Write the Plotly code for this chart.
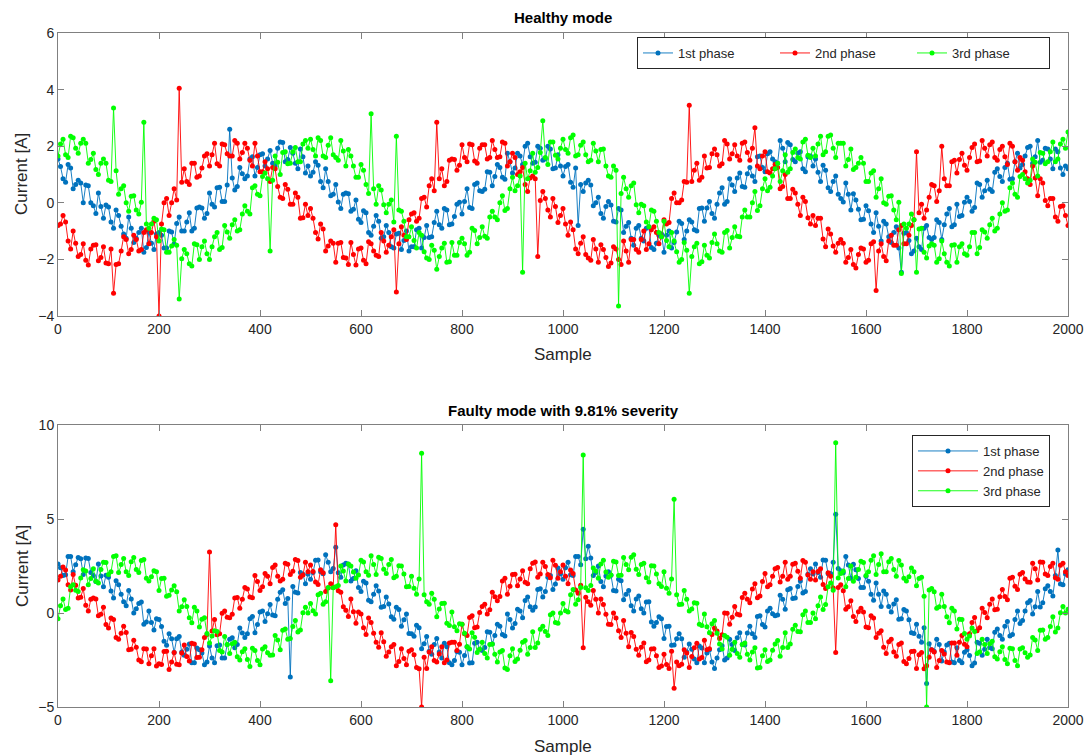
import plotly.graph_objects as go

# sample indices: readings every 10 samples plus in-between readings at the odd 5s
samples = list(range(0, 2001, 5))

# ---------------- Healthy mode (readings at samples 0,10,...,2000) ----------------
healthy_p1 = [
    1.55, 0.85, 1.35, 0.5, 0.8, 0.0, 0.6, -0.1, 0.35, -0.55, -0.15, -0.9, -0.45, -1.1, -0.5, -1.4, -1.05, -1.75, -1.05, -1.65,
    -1.05, -1.6, -1.0, -1.45, -0.5, -1.0, -0.35, -0.9, -0.15, -0.55, 0.35, -0.15, 0.55, 0.05, 2.6, 0.45, 1.25, 0.85, 1.55, 0.95,
    1.7, 1.3, 1.85, 1.3, 2.15, 1.45, 1.95, 1.4, 1.9, 1.05,
    0.95, 1.45, 0.75, 1.2, 0.25, 0.65, -0.2, 0.35, -0.3, 0.1, -0.7, -0.35, -1.15, -0.45, -1.25, -0.8, -1.55, -1.1, -1.65, -1.0,
    -1.55, -0.95, -1.6, -0.8, -1.2, -0.3, -0.9, -0.25, -0.75, -0.05, -0.4, 0.5, -0.2, 0.7, 0.4, 1.1, 0.6, 1.35, 0.9, 1.75,
    1.05, 1.75, 1.35, 2.1, 1.4, 2.0, 1.5, 2.0, 1.2, 1.7,
    0.95, 1.35, 0.55, -0.8, 0.4, 0.8, -0.1, 0.2, -0.55, 0.05, -0.65, -0.2, -1.05, -0.7, -1.5, -0.8, -1.35, -0.85, -1.65, -1.15,
    -1.75, -1.0, -1.4, -0.65, -1.3, -0.6, -0.95, -0.2, -0.65, 0.05, -0.55, 0.35, -0.05, 0.85, 0.4, 1.05, 0.55, 1.25, 0.75, 1.65,
    1.1, 1.8, 1.45, 2.2, 1.45, 2.05, 1.45, 1.8, 1.1, 1.65,
    1.55, 0.75, 1.15, 0.4, 0.95, 0.15, 0.7, -0.25, 0.1, -0.6, -0.1, -0.75, -0.35, -1.35, -0.75, -1.4, -0.85, -2.45, -1.05, -1.8,
    -1.25, -1.65, -0.8, -1.3, -0.6, -1.3, -0.4, -0.85, -0.05, -0.45, 0.2, -0.3, 0.7, 0.2, 0.8, 0.4, 1.2, 0.75, 1.4, 0.85,
    1.75, 1.35, 1.95, 1.4, 2.2, 1.5, 1.9, 1.2, 1.8, 1.0,
    1.2,
]
healthy_p2 = [
    -0.8, -0.45, -1.35, -1.0, -1.9, -1.45, -2.2, -1.5, -2.05, -1.55, -2.15, -3.2, -2.15, -1.2, -1.8, -1.15, -1.7, -1.05, -1.45, -0.65,
    -4.0, 0.0, -0.45, 0.5, 4.05, 1.2, 0.65, 1.4, 0.95, 1.65, 1.3, 2.1, 1.3, 2.05, 1.65, 2.2, 1.55, 2.1, 1.5, 2.1,
    1.1, 1.45, 0.75, 1.2, 0.2, 0.65, -0.05, 0.35, -0.55, -0.05,
    -0.2, -1.05, -0.75, -1.7, -1.35, -2.1, -1.4, -1.95, -1.4, -2.2, -1.6, -2.15, -1.45, -1.85, -1.05, -1.75, -1.2, -3.15, -0.85, -1.3,
    -0.4, -0.65, 0.15, -0.15, 0.85, 2.85, 1.2, 0.75, 1.55, 1.15, 2.05, 1.45, 2.05, 1.4, 2.05, 1.55, 2.2, 1.6, 2.15, 1.3,
    1.75, 1.0, 1.25, 0.4, 0.95, -1.9, 0.4, -0.25, 0.15, -0.7,
    -0.2, -1.15, -0.95, -1.8, -1.2, -1.95, -1.3, -2.1, -1.65, -2.25, -1.55, -2.0, -1.35, -2.1, -1.3, -1.75, -1.0, -1.45, -0.85, -1.45,
    -0.6, -0.7, 0.35, 0.0, 0.75, 3.45, 1.15, 0.8, 1.65, 1.25, 1.9, 1.3, 2.2, 1.55, 2.05, 1.5, 2.15, 1.5, 2.65, 1.2,
    1.8, 1.05, 1.35, 0.5, 1.0, 0.15, 0.35, -0.45, 0.05, -0.75,
    -0.8, -0.55, -1.55, -1.1, -1.75, -1.3, -2.1, -1.65, -2.3, -1.6, -2.1, -1.45, -3.1, -1.45, -2.05, -1.15, -1.5, -0.8, -1.45, -0.8,
    1.8, -0.05, -0.25, 0.65, 0.05, 2.0, 0.6, 1.45, 1.05, 1.75, 1.15, 1.95, 1.45, 2.2, 1.65, 2.15, 1.5, 2.0, 1.35, 2.0,
    1.15, 1.5, 0.85, 1.3, 0.25, 0.7, -0.1, 0.15, -0.65, -0.1,
    -0.8,
]
healthy_p3 = [
    1.65, 2.25, 1.6, 2.3, 1.75, 2.25, 1.4, 1.75, 1.0, 1.55, 0.8, 3.35, 0.3, 0.6, -0.3, 0.25, -0.4, 2.85, -0.9, -0.55,
    -1.35, -0.95, -1.75, -1.3, -3.4, -1.65, -2.15, -1.45, -2.0, -1.35, -2.0, -1.2, -1.65, -0.8, -1.25, -0.6, -0.95, -0.1, -0.4, 0.6,
    0.25, 1.05, -1.7, 1.65, 1.0, 1.8, 1.4, 1.95, 1.45, 2.2,
    2.25, 1.65, 2.2, 1.6, 2.3, 1.6, 2.2, 1.3, 1.65, 0.9, 1.35, 0.65, 3.15, -0.05, 0.45, -0.35, 0.1, 2.35, -0.3, -1.2,
    -0.85, -1.6, -1.15, -1.95, -1.5, -2.35, -1.6, -2.1, -1.4, -1.85, -1.25, -1.85, -0.9, -1.45, -0.85, -1.25, -0.3, -0.6, 0.25, -0.2,
    0.9, 0.6, -2.45, 0.85, 1.75, 1.25, 2.9, 1.35, 2.15, 1.55,
    2.25, 1.75, 2.4, 1.7, 2.15, 1.45, 2.1, 1.45, 1.9, 0.95, 1.3, -3.65, 0.9, 0.2, 0.7, -0.35, -0.1, -0.85, -0.3, -1.05,
    -0.65, -1.55, -1.35, -2.1, -1.4, -3.2, -1.55, -2.15, -1.5, -1.95, -1.1, -1.7, -1.05, -1.6, -0.85, -1.2, -0.25, -0.5, 0.4, -0.1,
    0.85, 0.55, 1.2, 0.75, 1.7, 1.2, 1.9, 1.55, 2.25, 1.6,
    1.65, 2.35, 1.8, 2.4, 1.6, 2.1, 1.3, 1.9, 1.25, 1.6, 0.75, 1.05, 0.2, 0.85, -0.05, 0.25, -0.6, -2.5, -0.9, -0.4,
    -2.45, -0.9, -1.95, -1.45, -2.1, -1.35, -2.1, -1.5, -2.1, -1.45, -1.85, -1.05, -1.8, -0.95, -1.25, -0.55, -0.9, 0.0, -0.25, 0.7,
    0.2, 1.0, 0.7, 1.55, 0.95, 1.75, 1.45, 2.15, 1.55, 2.25,
    2.5,
]

# in-between readings (samples 5,15,...,1995), one list per 500-sample cycle
hp1_mid_a = [1.28, 0.73, 1.23, 0.65, 0.7, 0.63, 0.0, -0.38, -0.13, -0.08, -0.68, -0.25, -0.83, -1.25, -0.9, -1.25, -0.9, -1.58, -1.43, -1.1,
             -1.15, -1.6, -1.03, -0.73, -1.0, -0.68, -1.0, -0.18, -0.18, -0.38, -0.05, 0.53, 0.05, 0.63, 0.88, 0.58, 1.03, 0.95, 1.63, 1.25,
             1.73, 1.55, 1.4, 1.93, 2.13, 1.53, 1.75, 1.2, 1.63, 1.3]
hp1_mid_b = [1.08, 1.33, 0.53, 0.75, 0.3, 0.03, 0.3, 0.32, -0.23, -0.58, -0.28, -1.05, -0.83, -0.65, -1.2, -1.05, -1.6, -1.08, -1.33, -1.7,
             -1.55, -0.9, -1.23, -1.23, -0.7, -0.78, -0.2, -0.78, -0.48, 0.02, 0.05, -0.17, 0.65, 0.43, 0.48, 1.08, 0.93, 1.25, 0.83, 1.45,
             1.23, 1.65, 2.0, 1.63, 1.43, 1.93, 1.55, 1.9, 1.23, 1.3]
hp2_mid_a = [-0.55, -1.28, -0.93, -1.53, -1.43, -1.43, -1.93, -2.18, -1.83, -1.63, -2.03, -1.38, -1.7, -1.9, -1.35, -1.5, -0.95, -1.45, -1.15, -0.6,
             -0.35, -0.55, 0.2, 0.6, 0.43, 0.85, 0.6, 1.5, 1.53, 1.33, 1.6, 2.08, 1.48, 1.93, 2.05, 1.6, 1.88, 1.63, 2.1, 1.45,
             1.6, 1.1, 0.65, 0.88, 0.85, 0.08, 0.15, -0.5, -0.13, -0.45]
hp2_mid_b = [-0.75, -0.68, -1.63, -1.43, -1.83, -2.03, -1.63, -1.48, -1.93, -2.13, -1.63, -2.18, -1.7, -1.3, -1.65, -1.3, -1.65, -0.95, -1.05, -1.2,
             -0.75, 0.15, 0.0, 0.1, 0.73, 0.75, 1.4, 0.9, 1.23, 1.73, 1.7, 1.38, 2.08, 1.73, 1.65, 2.1, 1.78, 1.93, 1.3, 1.65,
             1.1, 1.2, 1.25, 0.58, 0.15, 0.48, -0.05, 0.2, -0.53, -0.45]
hp3_mid_a = [2.08, 1.7, 2.35, 1.93, 2.1, 2.1, 1.53, 1.18, 1.4, 1.4, 0.75, 1.13, 0.5, 0.0, 0.23, -0.25, 0.02, -0.75, -0.75, -0.6,
             -0.93, -1.75, -1.53, -1.5, -1.98, -1.8, -2.23, -1.48, -1.55, -1.8, -1.55, -1.05, -1.58, -1.03, -0.78, -1.0, -0.4, -0.3, 0.53, 0.3,
             0.93, 0.85, 0.8, 1.43, 1.78, 1.38, 1.8, 1.45, 2.08, 1.93]
hp3_mid_b = [1.88, 2.3, 1.65, 2.03, 1.7, 1.5, 1.83, 1.88, 1.3, 0.9, 1.15, 0.33, 0.5, 0.6, -0.07, -0.05, -0.68, -0.25, -0.65, -1.2,
             -1.33, -1.05, -1.73, -2.0, -1.68, -1.9, -1.43, -2.08, -1.85, -1.4, -1.45, -1.75, -0.98, -1.23, -1.18, -0.5, -0.5, 0.0, -0.27, 0.5,
             0.43, 0.95, 1.4, 1.13, 1.08, 1.78, 1.6, 2.15, 1.68, 1.93]

# ---------------- Faulty mode (readings at samples 0,10,...,2000) ----------------
faulty_p1 = [
    2.6, 2.0, 3.0, 2.2, 2.95, 2.05, 2.9, 2.0, 2.6, 1.4, 1.9, 0.8, 1.5, 0.6, 1.2, 0.0, 0.5, -0.6, 0.1, -0.9,
    -0.35, -1.5, -1.1, -2.1, -1.25, -2.25, -1.65, -2.65, -1.95, -2.75, -1.75, -2.65, -1.7, -2.4, -1.4, -1.85, -0.8, -1.3, -0.3, -1.05,
    0.05, -0.45, 0.45, -0.15, 1.1, 0.5, -3.4, 1.1, 2.15, 1.55,
    1.8, 2.8, 2.2, 3.1, 2.2, 3.5, 1.9, 2.65, 1.7, 2.25, 1.15, 1.6, 0.6, 1.45, 0.3, 0.85, -0.2, 0.3, -0.7, -0.05,
    -1.1, -0.65, -1.9, -1.25, -2.2, -1.35, -2.4, -1.8, -2.75, -2.05, -2.75, -1.8, -2.65, -1.55, -2.0, -1.0, -1.65, -0.6, -1.15, -0.05,
    -0.8, 0.2, -0.25, 0.85, 0.15, 1.25, 0.85, 1.9, 1.25, 2.4,
    1.8, 2.7, 2.0, 3.0, 4.45, 3.55, 2.0, 2.5, 1.4, 2.2, 1.2, 1.8, 0.7, 1.2, 0.1, 0.9, 0.0, 0.6, -0.7, -0.2,
    -1.35, -0.7, -1.7, -1.1, -2.35, -1.65, -2.45, -1.75, -2.65, -1.95, -2.95, -1.95, -2.5, -1.4, -2.0, -1.05, -1.7, -0.7, -1.3, -0.15,
    -0.75, 0.25, -0.15, 0.95, 0.2, 1.3, 0.8, 1.7, 1.15, 2.35,
    2.6, 1.9, 2.8, 2.1, 5.25, 2.25, 3.0, 1.85, 2.3, 1.35, 1.95, 1.0, 1.6, 0.35, 1.0, 0.05, 0.7, -0.3, 0.1, -1.05,
    -0.6, -1.55, -3.75, -1.95, -1.4, -2.55, -1.7, -2.6, -1.85, -2.65, -1.95, -2.8, -1.55, -2.25, -1.4, -1.9, -0.85, -1.4, -0.45, -1.15,
    0.1, -0.4, 0.55, -0.05, 1.15, 0.55, 1.45, 0.9, 3.35, 1.5,
    2.3,
]
faulty_p2 = [
    1.75, 2.45, 1.5, 2.05, 0.8, 1.3, 0.1, 0.8, -0.15, 0.3, -0.8, -0.35, -1.4, -0.7, -1.95, -1.45, -2.5, -1.9, -2.7, -1.9,
    -2.7, -2.05, -3.0, -2.1, -2.75, -1.7, -2.55, -1.65, -2.35, -1.3, 3.25, -0.35, -1.1, 0.1, -0.25, 0.8, 0.25, 1.35, 0.85, 2.0,
    1.2, 2.1, 1.55, 2.55, 1.7, 2.65, 2.05, 2.85, 1.9, 2.7,
    2.55, 1.65, 2.3, 1.15, 1.55, 4.7, 1.1, 0.15, 0.75, -0.55, -0.05, -1.15, -0.5, -1.55, -1.05, -2.3, -1.8, -2.8, -1.9, -2.75,
    -1.95, -2.9, -5.0, -2.95, -1.8, -2.6, -1.8, -2.5, -1.55, -2.0, -0.6, -1.2, -0.15, -0.75, 0.35, -0.05, 1.1, 0.65, 1.7, 1.0,
    2.05, 1.45, 2.25, 1.55, 2.65, 1.9, 2.7, 2.05, 2.8, 1.85,
    2.55, 1.55, 2.1, 1.05, -1.85, 0.6, 1.2, 0.0, 0.45, -0.6, 0.0, -0.95, -0.4, -1.8, -1.25, -2.25, -1.6, -2.5, -1.9, -2.9,
    -2.2, -2.95, -4.0, -2.8, -1.95, -2.9, -1.85, -2.45, -1.45, -1.9, -0.8, -1.35, 0.0, -0.6, 0.35, -0.1, 1.05, 0.55, 1.55, 0.9,
    2.1, 1.5, 2.35, 1.65, 2.7, 1.95, 2.65, 1.85, 2.7, 1.8,
    1.75, 2.35, 1.3, 1.95, -2.1, 1.5, 0.2, 0.65, -0.45, 0.25, -0.75, -0.15, -1.3, -0.95, -2.15, -1.4, -2.3, -1.6, -2.7, -2.05,
    -2.95, -2.1, -2.8, -1.95, -2.9, -2.0, -2.6, -1.6, -2.25, -1.2, -1.8, -0.5, -0.95, 0.25, -0.25, 0.75, 0.2, 1.25, 0.7, 1.9,
    1.25, 2.15, 1.65, 2.65, 1.75, 2.7, 2.0, 2.65, 1.8, 2.65,
    2.0,
]
faulty_p3 = [
    -0.3, 0.75, 0.25, 1.5, 1.15, 2.3, 1.5, 2.35, 1.6, 2.7, 2.05, 3.0, 2.15, 2.9, 2.0, 2.95, 2.15, 2.85, 1.7, 2.25,
    1.2, 1.85, 0.95, 1.45, 0.1, 0.7, -0.25, 0.3, -0.75, -0.25, -1.6, -0.95, -2.0, -1.25, -2.15, -1.55, -2.5, -1.9, -2.85, -2.0,
    -2.75, -1.8, -2.25, -1.2, -1.95, -0.85, -1.35, -0.4, -0.9, 0.3,
    0.5, -0.05, 1.05, 0.6, -3.6, 1.4, 2.5, 1.7, 2.5, 1.85, 2.8, 2.2, 3.05, 2.05, 2.9, 2.1, 2.85, 1.95, 2.5, 1.4,
    1.95, 1.0, 8.5, 0.6, 1.05, -0.2, 0.5, -0.55, 0.05, -0.95, -0.6, -1.8, -1.05, -2.1, -1.55, -2.4, -1.65, -2.6, -2.0, -3.0,
    -1.9, -2.45, -1.55, -2.2, -1.0, -1.6, -0.7, -1.2, 0.0, -0.55,
    0.5, 0.05, 1.25, 0.7, 8.4, 1.2, 2.4, 1.85, 2.8, 1.9, 2.75, 2.0, 2.95, 2.3, 3.1, 2.05, 2.65, 1.65, 2.5, 1.55,
    2.2, 1.05, 6.05, 0.45, 1.2, 0.1, 0.55, -0.6, -0.05, -1.05, -0.4, -1.65, -1.2, -2.25, -1.55, -2.35, -1.6, -2.5, -1.85, -2.9,
    -1.95, -2.5, -1.65, -2.3, -1.05, -1.65, -0.65, -1.0, 0.1, -0.5,
    -0.3, 0.85, 0.45, 1.6, 9.05, 2.1, 1.4, 2.5, 1.9, 2.75, 2.0, 2.8, 2.05, 3.15, 2.2, 2.9, 1.95, 2.55, 1.7, 2.4,
    1.45, 1.9, -5.0, 1.3, 0.25, 1.0, -0.2, 0.25, -0.85, -0.35, -1.4, -0.8, -2.15, -1.4, -2.15, -1.5, -2.45, -1.8, -2.7, -1.9,
    -2.8, -1.85, -2.35, -1.3, -2.0, -0.9, -1.3, -0.2, -0.8, 0.35,
    0.2,
]

fp1_mid_a = [2.41, 2.04, 3.01, 2.56, 2.89, 2.92, 2.15, 1.67, 1.97, 2.01, 1.17, 1.72, 1.0, 0.39, 0.75, 0.22, 0.59, -0.48, -0.5, -0.31,
             -0.72, -1.71, -1.37, -1.37, -2.08, -1.93, -2.65, -1.86, -2.13, -2.61, -2.4, -1.74, -2.39, -1.67, -1.32, -1.68, -1.06, -1.1, -0.18, -0.61,
             0.1, -0.04, -0.11, 0.73, 1.24, 0.77, 1.41, 1.07, 2.06, 2.08]
fp1_mid_b = [2.15, 2.82, 2.09, 2.7, 2.37, 2.14, 2.55, 2.59, 1.83, 1.35, 1.69, 0.68, 1.0, 1.17, 0.35, 0.48, -0.33, 0.18, -0.36, -1.09,
             -1.24, -0.79, -1.63, -2.03, -1.68, -2.07, -1.61, -2.64, -2.53, -2.09, -2.26, -2.66, -1.61, -1.93, -1.84, -1.02, -1.2, -0.7, -1.22, -0.35,
             -0.56, 0.1, 0.67, 0.33, 0.32, 1.29, 1.15, 1.99, 1.54, 2.08]
fp2_mid_a = [2.21, 1.51, 2.14, 1.33, 1.36, 1.19, 0.33, -0.18, 0.07, 0.05, -0.79, -0.26, -1.08, -1.82, -1.53, -2.08, -1.67, -2.58, -2.42, -2.04,
             -2.22, -2.96, -2.35, -2.07, -2.53, -2.18, -2.65, -1.59, -1.55, -1.66, -1.1, -0.24, -0.79, 0.03, 0.46, 0.17, 0.87, 0.88, 1.85, 1.42,
             2.06, 1.81, 1.64, 2.35, 2.71, 2.07, 2.48, 1.87, 2.54, 2.2]
fp2_mid_b = [1.95, 2.29, 1.22, 1.47, 0.84, 0.41, 0.73, 0.74, -0.07, -0.61, -0.27, -1.3, -1.08, -1.04, -1.93, -1.82, -2.59, -1.92, -2.28, -2.82,
             -2.74, -2.04, -2.61, -2.73, -2.13, -2.32, -1.61, -2.37, -1.95, -1.14, -0.96, -1.16, -0.01, -0.23, -0.06, 0.83, 0.73, 1.28, 0.81, 1.68,
             1.4, 1.95, 2.42, 1.95, 1.79, 2.59, 2.22, 2.79, 2.02, 2.2]
fp3_mid_a = [0.38, 0.19, 1.39, 1.21, 1.86, 2.24, 1.83, 1.69, 2.32, 2.68, 2.19, 3.05, 2.58, 2.19, 2.73, 2.32, 2.79, 1.85, 1.93, 2.19,
             1.84, 0.89, 1.23, 1.13, 0.33, 0.35, -0.52, 0.11, -0.33, -1.09, -1.22, -0.99, -2.07, -1.67, -1.64, -2.33, -2.06, -2.48, -1.88, -2.53,
             -1.92, -2.12, -2.24, -1.43, -0.92, -1.39, -0.72, -1.01, 0.01, 0.0]
fp3_mid_b = [0.12, 0.97, 0.47, 1.35, 1.34, 1.46, 2.23, 2.61, 2.18, 2.02, 2.71, 2.01, 2.58, 2.97, 2.33, 2.58, 1.87, 2.51, 2.07, 1.41,
             1.32, 1.81, 0.97, 0.47, 0.73, 0.21, 0.52, -0.67, -0.73, -0.57, -1.08, -1.91, -1.29, -1.93, -2.16, -1.67, -2.2, -2.08, -2.92, -2.27,
             -2.58, -1.98, -1.46, -1.83, -1.84, -0.87, -0.98, -0.09, -0.51, 0.0]

healthy_p1_mid = hp1_mid_a + hp1_mid_b + hp1_mid_a + hp1_mid_b
healthy_p2_mid = hp2_mid_b + hp2_mid_a + hp2_mid_b + hp2_mid_a
healthy_p3_mid = hp3_mid_a + hp3_mid_b + hp3_mid_b + hp3_mid_a
faulty_p1_mid = fp1_mid_a + fp1_mid_b + fp1_mid_a + fp1_mid_b
faulty_p2_mid = fp2_mid_b + fp2_mid_a + fp2_mid_b + fp2_mid_a
faulty_p3_mid = fp3_mid_a + fp3_mid_b + fp3_mid_b + fp3_mid_a

series_names = ["1st phase", "2nd phase", "3rd phase"]
colors = ["#0072BD", "#FF0000", "#00FF00"]
x_ticks = list(range(0, 2001, 200))


def merge(main, mid):
    out = []
    for a, b in zip(main[:-1], mid):
        out += [a, b]
    out.append(main[-1])
    return out


FONT = "Liberation Sans, Arial, Helvetica, sans-serif"
TXT = "#262626"
AX = "#808080"

fig = go.Figure()
for name, ys, ms, c in zip(series_names, [healthy_p1, healthy_p2, healthy_p3],
                           [healthy_p1_mid, healthy_p2_mid, healthy_p3_mid], colors):
    fig.add_trace(go.Scatter(x=samples, y=merge(ys, ms), mode="lines+markers", name=name,
                             line=dict(color=c, width=0.9), marker=dict(color=c, size=5),
                             xaxis="x", yaxis="y", legend="legend"))
for name, ys, ms, c in zip(series_names, [faulty_p1, faulty_p2, faulty_p3],
                           [faulty_p1_mid, faulty_p2_mid, faulty_p3_mid], colors):
    fig.add_trace(go.Scatter(x=samples, y=merge(ys, ms), mode="lines+markers", name=name,
                             line=dict(color=c, width=0.9), marker=dict(color=c, size=5),
                             xaxis="x2", yaxis="y2", legend="legend2"))

W, H = 1087, 756
ml, mr, mt, mb = 58, 19, 33, 49
ph = H - mt - mb
top_dom = [(707 - 316) / ph, 1.0]
bot_dom = [0.0, (707 - 425) / ph]


def py(p):
    return (707 - p) / ph


def px(p):
    return (p - ml) / (W - ml - mr)


axis_common = dict(showline=True, linecolor=AX, linewidth=1, mirror="ticks",
                   ticks="inside", ticklen=6, tickcolor=AX, showgrid=False, zeroline=False,
                   tickfont=dict(family=FONT, size=14, color=TXT))

ann_font = dict(size=17, family=FONT, color=TXT)
fig.update_layout(
    width=W, height=H,
    margin=dict(l=ml, r=mr, t=mt, b=mb, autoexpand=False),
    paper_bgcolor="white", plot_bgcolor="white",
    font=dict(family=FONT, color=TXT),
    xaxis=dict(domain=[0, 1], anchor="y", range=[0, 2000], tickvals=x_ticks, **axis_common),
    yaxis=dict(domain=top_dom, anchor="x", range=[-4, 6], dtick=2, **axis_common),
    xaxis2=dict(domain=[0, 1], anchor="y2", range=[0, 2000], tickvals=x_ticks, **axis_common),
    yaxis2=dict(domain=bot_dom, anchor="x2", range=[-5, 10], dtick=5, **axis_common),
    legend=dict(orientation="h", x=px(1050), xanchor="right", y=py(37), yanchor="top",
                bgcolor="white", bordercolor=TXT, borderwidth=1,
                font=dict(family=FONT, size=13, color=TXT), entrywidth=92),
    legend2=dict(orientation="v", x=px(1050), xanchor="right", y=py(435), yanchor="top",
                 bgcolor="white", bordercolor=TXT, borderwidth=1, tracegroupgap=0, itemwidth=60,
                 font=dict(family=FONT, size=13, color=TXT)),
    annotations=[
        dict(text="<b>Healthy mode</b>", x=0.5, y=py(18), xref="paper", yref="paper",
             xanchor="center", yanchor="middle", showarrow=False,
             font=dict(size=15, family=FONT, color="black")),
        dict(text="<b>Faulty mode with 9.81% severity</b>", x=0.5, y=py(410), xref="paper", yref="paper",
             xanchor="center", yanchor="middle", showarrow=False,
             font=dict(size=15, family=FONT, color="black")),
        dict(text="Sample", x=0.5, y=py(355), xref="paper", yref="paper",
             xanchor="center", yanchor="middle", showarrow=False, font=ann_font),
        dict(text="Sample", x=0.5, y=py(746), xref="paper", yref="paper",
             xanchor="center", yanchor="middle", showarrow=False, font=ann_font),
        dict(text="Current [A]", x=px(22), y=py(174), xref="paper", yref="paper", textangle=-90,
             xanchor="center", yanchor="middle", showarrow=False, font=ann_font),
        dict(text="Current [A]", x=px(22), y=py(566), xref="paper", yref="paper", textangle=-90,
             xanchor="center", yanchor="middle", showarrow=False, font=ann_font),
    ],
)

fig.write_html("out.html")
